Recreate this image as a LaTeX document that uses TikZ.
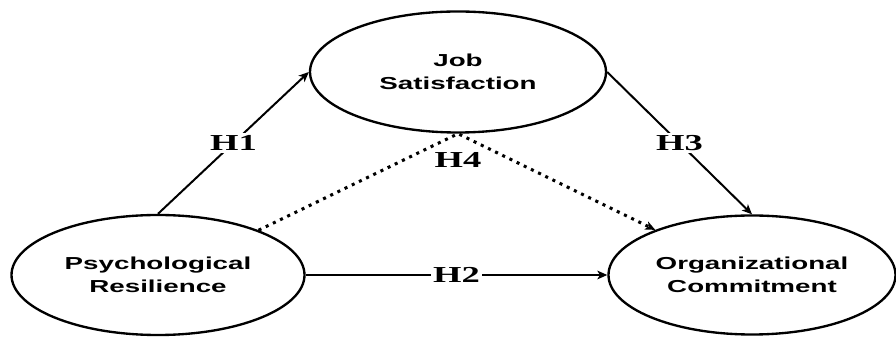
\documentclass[tikz,border=0pt]{standalone}
\usepackage{fontspec}
\usetikzlibrary{shapes.geometric,arrows.meta,positioning}
\newfontfamily\varfont[FakeStretch=1.6]{Liberation Sans}
\newfontfamily\hypfont[FakeStretch=1.6]{Liberation Serif}

\begin{document}
\begin{tikzpicture}[
    var/.style={ellipse,draw,line width=2pt,inner sep=0pt,align=center,font=\varfont\fontsize{14.8pt}{20pt}\selectfont\bfseries},
    arr/.style={-{Stealth[length=3mm,width=2.6mm,inset=0.8mm]},line width=1.7pt},
    dotarr/.style={arr,line width=2.6pt,dash pattern=on 2.6pt off 4.2pt},
    hyp/.style={font=\hypfont\fontsize{19.5pt}{20pt}\selectfont\bfseries,fill=white,inner sep=2pt},
]
\useasboundingbox (0,0) rectangle (26.88,10.11);

\node[var,minimum width=8.88cm,minimum height=3.63cm] (js) at (13.74,7.95) {Job\\Satisfaction};
\node[var,minimum width=8.79cm,minimum height=3.6cm] (pr) at (4.74,1.86) {Psychological\\Resilience};
\node[var,minimum width=8.61cm,minimum height=3.57cm] (oc) at (22.56,1.86) {Organizational\\Commitment};

\draw[arr] (pr.north) -- node[hyp]{H1} (js.west);
\draw[arr] (pr.east) -- node[hyp]{H2} (oc.west);
\draw[arr] (js.east) -- node[hyp]{H3} (oc.north);
\draw[dotarr] (pr.24) -- (js.south) -- (oc.155);
\node[hyp,fill=none,below=0.5cm of js.south] (h4) {H4};
\end{tikzpicture}
\end{document}
